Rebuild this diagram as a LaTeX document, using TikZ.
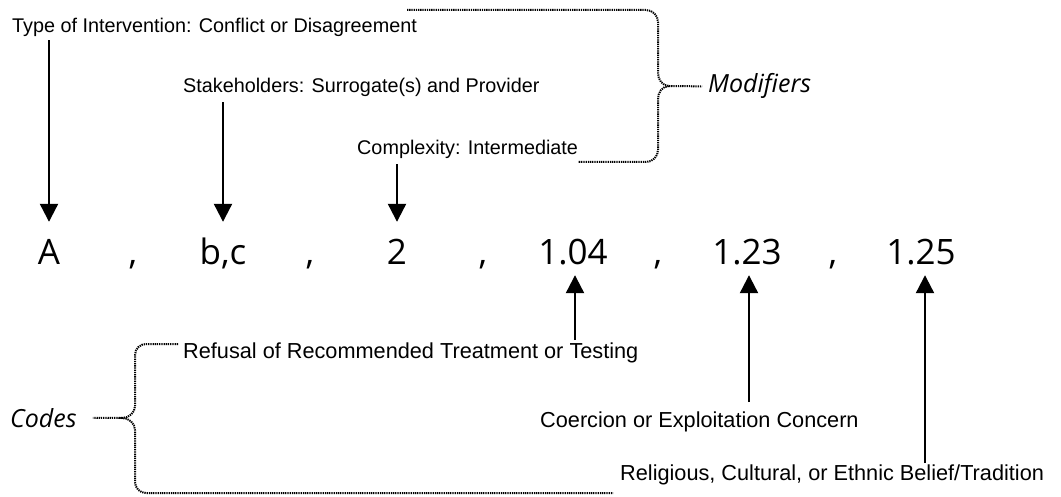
\documentclass[tikz,border=0pt]{standalone}
\usepackage{fontspec}
\setmainfont{Liberation Sans}
\newfontfamily\codefont{Open Sans}
\usetikzlibrary{arrows.meta}
\begin{document}
\begin{tikzpicture}[x=1pt,y=-1pt,
  lbl/.style={inner sep=0pt, anchor=base west, font=\fontsize{19.8}{22}\selectfont},
  lbll/.style={inner sep=0pt, anchor=base west, font=\fontsize{21.7}{24}\selectfont},
  code/.style={inner sep=0pt, anchor=base, font=\codefont\fontsize{35}{40}\selectfont, text height=25pt, text depth=7pt},
  grp/.style={inner sep=0pt, anchor=base west, font=\codefont\itshape\fontsize{25}{30}\selectfont},
  arr/.style={line width=2.2pt, -{Triangle[length=18pt,width=18pt]}},
  brace/.style={line width=2pt, dash pattern=on 1.3pt off 0.9pt}]
\path[fill=white, use as bounding box] (0,0) rectangle (1061,497);

% code line
\node[code] (A)  at (49,265)  {A};
\node[code] (c1) at (133,265) {,};
\node[code] (bc) at (223,265) {b,c};
\node[code] (c2) at (310,265) {,};
\node[code] (n2) at (397,265) {2};
\node[code] (c3) at (483,265) {,};
\node[code] (d1) at (573,265) {1.04};
\node[code] (c4) at (658,265) {,};
\node[code] (d2) at (747,265) {1.23};
\node[code] (c5) at (833,265) {,};
\node[code] (d3) at (921,265) {1.25};

% labels
\node[lbl] (tType)  at (12,33)  {Type of Intervention: Conflict or Disagreement};
\node[lbl] (tStake) at (183,93) {Stakeholders: Surrogate(s) and Provider};
\node[lbl] (tComp)  at (357,155) {Complexity: Intermediate};
\node[lbll] (tRef)  at (183,358) {Refusal of Recommended Treatment or Testing};
\node[lbll] (tCoer) at (540,427) {Coercion or Exploitation Concern};
\node[lbll] (tRel)  at (620,480) {Religious, Cultural, or Ethnic Belief/Tradition};
\node[grp] (mod)   at (708,93)  {Modifiers};
\node[grp] (codes) at (10,427)  {Codes};

% arrows down
\draw[arr, shorten <=3pt, shorten >=18pt] (tType.south -| A) -- (A.north);
\draw[arr, shorten <=5pt, shorten >=18pt] (tStake.south -| bc) -- (bc.north);
\draw[arr, shorten <=5pt, shorten >=18pt] (tComp.south -| n2) -- (n2.north);

% arrows up
\coordinate (d1a) at ([xshift=2pt]d1.south);
\coordinate (d2a) at ([xshift=2pt]d2.south);
\coordinate (d3a) at ([xshift=4pt]d3.south);
\draw[arr, shorten <=2pt, shorten >=3pt] (d1a |- tRef.north) -- (d1a);
\draw[arr, shorten <=9pt, shorten >=3pt] (d2a |- tCoer.north) -- (d2a);
\draw[arr, shorten <=1pt, shorten >=3pt] (d3a |- tRel.north) -- (d3a);

% modifiers brace
\draw[brace] (407,10) -- (646,10) to[out=0,in=90] (658,22) -- (658,73)
  to[out=-90,in=180] (669,86) coordinate (mcusp)
  to[out=180,in=90] (658,99) -- (658,150) to[out=-90,in=0] (646,162) -- (578,162);
\draw[brace, shorten >=6pt] (mcusp) -- (mod.west);

% codes brace
\draw[brace] (178,344) -- (146,344) to[out=180,in=90] (135,355) -- (135,406)
  to[out=-90,in=0] (122,418) coordinate (ccusp)
  to[out=0,in=90] (135,430) -- (135,482) to[out=-90,in=180] (146,493) -- (613,493);
\draw[brace, shorten >=16pt] (ccusp) -- (codes.east);
\end{tikzpicture}
\end{document}
